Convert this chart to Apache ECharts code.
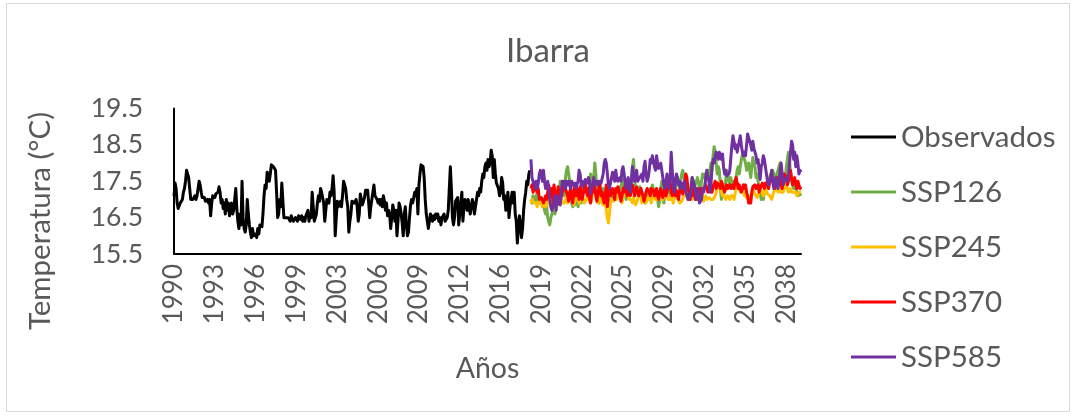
<!DOCTYPE html>
<html>
<head>
<meta charset="utf-8">
<title>Ibarra</title>
<script src="https://cdn.jsdelivr.net/npm/echarts@6/dist/echarts.min.js"></script>
<style>
  html, body { margin: 0; padding: 0; background: #fff; }
  #chart { width: 1075px; height: 416px; }
</style>
</head>
<body>
<div id="chart"></div>
<script>
// Monthly mean temperature (°C), Ibarra: observed record, Jan 1990 onwards
const observados = [
  17.1, 17.45, 17.3, 16.9, 16.75, 16.8, 16.9, 16.85, 17.0, 17.2, 17.3, 17.5,
  17.8, 17.7, 17.6, 17.3, 17.0, 16.95, 17.0, 16.95, 17.1, 17.0, 17.1, 17.3,
  17.5, 17.4, 17.2, 17.05, 17.0, 17.05, 16.95, 17.0, 17.0, 16.9, 17.0, 16.55,
  16.9, 17.1, 17.1, 17.05, 17.15, 17.1, 17.2, 17.35, 17.2, 16.9, 17.0, 16.75,
  16.9, 16.6, 17.0, 16.7, 16.9, 16.55, 16.8, 16.9, 16.6, 16.7, 16.75, 17.3,
  16.75, 16.4, 16.2, 16.6, 16.3, 17.5, 16.5, 16.2, 16.1, 16.3, 17.0, 16.6,
  16.3, 16.1, 15.95, 16.2, 16.0, 15.95, 16.05, 15.95, 16.2, 16.05, 16.3, 16.35,
  16.25, 16.6, 17.1, 17.4, 17.3, 17.75, 17.6, 17.5, 17.7, 17.95, 18.0, 17.9,
  17.95, 17.8, 17.2, 16.5, 16.6, 17.0, 16.8, 17.45, 17.4, 16.5, 16.55, 16.5,
  16.5, 16.5, 16.45, 16.4, 16.55, 16.5, 16.4, 16.45, 16.5, 16.5, 16.4, 16.55,
  16.5, 16.45, 16.55, 16.4, 16.5, 16.4, 16.55, 16.5, 16.7, 16.4, 16.6, 16.5,
  17.2, 16.8, 16.4, 16.45, 16.6, 16.9, 17.1, 16.95, 17.3, 17.2, 17.15, 16.9,
  16.4, 16.7, 17.0, 17.05, 16.9, 17.2, 17.1, 17.3, 17.65, 17.2, 16.0, 16.5,
  16.95, 16.8, 16.85, 16.95, 16.8, 17.1, 17.5, 17.45, 17.3, 17.0, 16.8, 16.1,
  16.4, 16.6, 16.95, 17.0, 16.9, 16.9, 17.0, 16.8, 16.4, 16.6, 17.15, 17.0,
  16.85, 16.9, 17.05, 17.25, 17.2, 17.25, 16.9, 16.5, 16.8, 17.0, 17.2, 17.4,
  17.1, 17.15, 17.0, 16.9, 17.0, 16.85, 17.0, 16.8, 17.1, 16.95, 16.7, 16.9,
  16.55, 16.7, 16.6, 16.2, 16.5, 16.85, 16.7, 16.4, 16.7, 16.0, 16.4, 16.9,
  16.8, 16.6, 16.35, 16.0, 16.6, 16.8, 16.3, 16.0, 16.1, 16.5, 16.85, 17.0,
  16.9, 17.05, 17.2, 17.1, 17.3, 16.6, 17.4, 17.7, 17.95, 18.0, 17.9, 17.6,
  17.0, 16.6, 16.4, 16.2, 16.4, 16.6, 16.5, 16.4, 16.55, 16.45, 16.6, 16.5,
  16.6, 16.4, 16.5, 16.3, 16.5, 16.45, 16.6, 16.4, 16.35, 16.5, 16.7, 16.65,
  17.9, 17.3, 16.5, 16.3, 16.5, 16.95, 17.0, 17.05, 16.3, 16.6, 16.9, 17.2,
  16.4, 16.8, 17.0, 16.9, 16.7, 17.0, 16.8, 16.6, 16.8, 17.0, 16.9, 16.6,
  16.8, 17.0, 17.2, 17.1, 17.3, 17.2, 17.5, 17.7, 17.6, 17.9, 18.0, 17.8,
  18.1, 17.9, 18.0, 18.35, 18.2, 17.6, 18.1, 17.7, 17.45, 17.5, 17.3, 17.1,
  17.2, 17.6, 17.45, 17.0, 17.1, 16.7, 16.9, 17.2, 16.5, 16.8, 17.0, 17.2,
  16.9, 17.2, 16.6, 16.4, 15.8, 16.2, 16.55, 16.3, 15.95, 16.2, 16.7, 17.0,
  17.2, 17.5, 17.4, 17.7, 17.8
];

// Projected monthly temperature under each scenario, continuing the record
const ssp126 = [
  17.0, 16.9, 17.1, 17.0, 16.9, 17.1, 17.2, 17.0, 16.9, 17.05, 16.95, 16.8,
  16.9, 16.7, 16.6, 16.8, 16.5, 16.4, 16.3, 16.5, 16.6, 16.7, 16.8, 16.6,
  16.8, 17.0, 16.9, 17.2, 17.5, 17.4, 17.5, 17.3, 17.1, 17.6, 17.8, 17.9,
  17.85, 17.5, 17.2, 16.9, 16.8, 17.0, 16.85, 16.9, 17.1, 16.8, 17.0, 17.2,
  16.9, 17.3, 17.2, 17.3, 17.35, 17.25, 17.3, 17.1, 17.4, 17.7, 17.5, 17.3,
  17.6, 18.0, 17.7, 17.2, 17.0, 16.9, 17.1, 17.2, 17.0, 17.3, 17.1, 16.9,
  16.8, 16.75, 16.8, 16.9, 17.0, 17.0, 17.05, 17.1, 17.0, 17.2, 17.1, 17.3,
  17.2, 17.3, 17.25, 17.45, 17.55, 17.3, 17.1, 17.0, 17.2, 17.1, 17.3, 17.4,
  17.6, 17.9, 18.1, 17.6, 17.3, 17.2, 17.3, 17.1, 17.35, 17.3, 17.2, 17.0,
  17.1, 16.9, 17.0, 17.2, 17.1, 17.0, 17.3, 17.2, 17.4, 17.3, 17.1, 17.2,
  17.25, 17.0, 16.8, 17.0, 17.3, 17.5, 17.0, 16.9, 17.2, 17.1, 17.3, 17.25,
  17.2, 17.1, 17.3, 17.4, 17.2, 17.1, 17.3, 17.4, 17.6, 17.5, 17.3, 17.5,
  17.7, 17.8, 17.75, 17.5, 17.2, 17.1, 17.0, 17.1, 17.2, 17.4, 17.6, 17.5,
  17.3, 17.4, 17.5, 17.6, 17.5, 17.3, 17.2, 17.5, 17.7, 17.6, 17.7, 17.5,
  17.7, 17.8, 17.6, 17.8, 18.0, 17.8, 18.2, 18.45, 18.3, 18.0, 17.7, 17.9,
  17.8, 17.3, 17.0, 17.1, 17.4, 17.3, 17.5, 17.8, 17.7, 17.5, 17.4, 17.6,
  17.4, 17.3, 17.5, 17.4, 17.6, 17.8, 17.9, 17.7, 17.9, 18.1, 18.25, 18.2,
  18.1, 18.0, 17.8, 17.9, 18.0, 17.8, 17.6, 17.9, 18.15, 18.1, 17.9, 17.6,
  17.7, 17.5, 17.3, 17.2, 17.0, 17.1, 17.0, 17.2, 17.3, 17.25, 17.4, 17.5,
  17.6, 17.7, 17.6, 17.8, 17.7, 17.5, 17.6, 17.7, 17.8, 17.9, 18.0, 17.8,
  17.5, 17.4, 17.3, 17.6, 17.9, 18.1, 18.3, 18.1, 17.7, 17.5, 17.4, 17.3,
  17.4, 17.3, 17.2, 17.1, 17.2, 17.15, 17.1
];

const ssp245 = [
  16.9, 17.0, 16.95, 16.9, 16.85, 16.9, 16.8, 16.9, 16.85, 17.0, 16.9, 16.8,
  16.85, 16.9, 16.8, 16.9, 17.0, 16.9, 16.85, 16.8, 16.9, 16.75, 16.8, 16.9,
  16.8, 16.9, 17.0, 16.85, 16.9, 17.0, 16.9, 16.95, 16.9, 17.0, 17.1, 16.9,
  16.85, 17.0, 17.1, 17.25, 17.0, 16.85, 16.9, 17.1, 17.15, 17.0, 16.9, 16.85,
  17.0, 17.1, 17.05, 16.9, 16.85, 17.0, 17.1, 17.2, 17.05, 16.9, 17.0, 17.3,
  17.35, 17.3, 17.1, 17.0, 16.9, 17.0, 17.1, 16.95, 16.9, 16.85, 16.8, 16.9,
  16.7, 16.5, 16.35, 16.6, 16.9, 17.0, 17.05, 16.95, 17.0, 17.1, 17.0, 17.05,
  17.25, 17.1, 17.0, 16.9, 17.05, 17.0, 17.2, 17.3, 17.25, 17.1, 17.0, 16.95,
  17.0, 16.9, 17.05, 16.95, 16.85, 16.9, 17.0, 17.2, 17.15, 17.1, 16.9, 17.0,
  17.05, 17.1, 16.9, 17.0, 16.95, 17.1, 17.0, 16.9, 17.05, 17.15, 17.1, 17.0,
  16.95, 17.0, 17.1, 17.05, 17.0, 17.1, 17.0, 16.95, 17.1, 17.05, 17.15, 17.0,
  16.95, 17.0, 17.1, 17.05, 16.9, 17.1, 17.15, 17.05, 17.1, 17.0, 16.9, 16.85,
  16.95, 17.0, 17.1, 17.05, 17.2, 17.15, 17.1, 17.2, 17.05, 17.1, 17.0, 17.1,
  17.15, 17.2, 17.1, 17.0, 17.1, 17.05, 17.0, 17.05, 17.1, 16.95, 17.0, 17.1,
  17.0, 16.95, 17.05, 17.1, 17.0, 16.95, 17.0, 17.05, 17.1, 17.2, 17.3, 17.45,
  17.4, 17.3, 17.2, 17.1, 17.05, 17.1, 17.0, 17.05, 17.1, 17.05, 17.0, 17.1,
  17.05, 17.1, 17.0, 17.15, 17.3, 17.45, 17.4, 17.3, 17.2, 17.15, 17.3, 17.2,
  17.1, 17.2, 17.05, 17.1, 17.0, 17.05, 17.1, 17.2, 17.3, 17.25, 17.15, 17.1,
  17.05, 17.1, 17.2, 17.3, 17.25, 17.2, 17.1, 17.2, 17.3, 17.25, 17.15, 17.2,
  17.1, 17.05, 17.0, 17.1, 17.2, 17.3, 17.35, 17.3, 17.2, 17.25, 17.3, 17.2,
  17.15, 17.2, 17.3, 17.6, 17.4, 17.3, 17.2, 17.25, 17.3, 17.2, 17.15, 17.2,
  17.25, 17.2, 17.1, 17.15, 17.2, 17.25, 17.2
];

const ssp370 = [
  17.3, 17.4, 17.2, 17.15, 17.3, 17.4, 17.2, 17.3, 17.0, 16.95, 17.05, 17.0,
  16.9, 17.0, 17.1, 17.0, 16.95, 17.4, 17.2, 17.1, 17.3, 16.9, 17.4, 17.2,
  17.15, 17.0, 17.35, 17.1, 16.95, 17.0, 17.2, 17.15, 17.45, 17.3, 17.2, 17.1,
  16.95, 17.2, 17.3, 17.0, 16.9, 17.2, 17.4, 17.1, 17.3, 17.2, 17.0, 17.35,
  17.2, 17.0, 17.15, 17.3, 17.45, 17.2, 17.1, 17.3, 17.0, 16.9, 17.2, 17.3,
  17.2, 17.35, 17.1, 16.95, 17.2, 17.3, 17.4, 17.1, 17.2, 17.0, 16.9, 17.1,
  17.4, 16.8, 17.2, 17.35, 17.1, 17.2, 17.3, 17.15, 17.0, 17.3, 17.2, 17.35,
  17.25, 17.3, 16.95, 17.1, 17.3, 17.2, 17.4, 17.35, 17.1, 17.3, 17.2, 17.1,
  17.3, 17.4, 17.35, 17.1, 17.2, 17.35, 17.2, 17.1, 17.15, 17.3, 17.2, 17.1,
  16.95, 17.0, 17.2, 17.3, 17.35, 17.2, 17.1, 17.3, 17.35, 17.25, 17.1, 17.2,
  17.3, 17.1, 17.0, 17.2, 17.3, 17.15, 17.05, 17.2, 17.3, 17.1, 17.2, 17.4,
  17.3, 17.5, 17.2, 17.1, 17.3, 17.2, 17.1, 17.25, 17.3, 17.0, 17.2, 17.4,
  17.3, 17.15, 17.2, 17.5, 17.7, 17.6, 17.3, 17.2, 17.0, 17.2, 17.1, 17.3,
  17.2, 17.0, 17.1, 17.3, 17.2, 17.1, 17.3, 17.35, 17.2, 17.3, 17.25, 17.4,
  17.3, 17.2, 17.35, 17.3, 17.4, 17.2, 17.35, 17.4, 17.5, 17.3, 17.45, 17.5,
  17.4, 17.3, 17.5, 17.45, 17.3, 17.2, 17.3, 17.4, 17.3, 17.35, 17.4, 17.3,
  17.35, 17.4, 17.3, 17.5, 17.6, 17.45, 17.3, 17.4, 17.35, 17.2, 17.3, 17.4,
  17.3, 17.4, 17.2, 17.1, 16.9, 16.85, 16.9, 17.2, 17.35, 17.3, 17.4, 17.3,
  17.3, 17.4, 17.2, 17.3, 17.35, 17.45, 17.4, 17.3, 17.45, 17.5, 17.4, 17.3,
  17.45, 17.6, 17.7, 17.5, 17.4, 17.3, 17.5, 17.6, 17.4, 17.5, 17.6, 17.4,
  17.3, 17.5, 17.7, 17.75, 17.6, 17.4, 17.5, 17.7, 17.8, 17.6, 17.4, 17.5,
  17.6, 17.4, 17.3, 17.5, 17.4, 17.3, 17.35
];

const ssp585 = [
  18.1, 17.6, 17.5, 17.4, 17.3, 17.5, 17.3, 17.45, 17.7, 17.8, 17.75, 17.5,
  17.8, 17.5, 17.3, 17.4, 17.5, 17.3, 17.0, 16.8, 16.7, 16.65, 16.9, 17.1,
  16.7, 17.1, 16.9, 16.95, 16.85, 17.2, 17.5, 17.4, 17.5, 17.3, 17.5, 17.4,
  17.5, 17.45, 17.3, 17.5, 17.4, 17.35, 17.45, 17.3, 17.4, 17.5, 17.8, 17.7,
  17.4, 17.5, 17.35, 17.4, 17.55, 17.5, 17.45, 17.6, 17.5, 17.15, 17.3, 17.4,
  17.6, 17.4, 17.35, 17.5, 17.4, 17.5, 17.55, 17.45, 17.5, 17.7, 18.0, 18.1,
  18.0, 17.7, 17.4, 17.3, 17.45, 17.4, 17.75, 17.6, 17.5, 17.8, 17.6, 17.5,
  17.45, 17.6, 17.5, 17.8, 17.9, 17.7, 17.5, 17.3, 17.5, 17.6, 17.3, 17.2,
  17.5, 17.9, 17.7, 17.5, 17.6, 17.8, 17.5, 17.45, 17.6, 17.55, 17.7, 17.5,
  17.9, 18.05, 17.7, 17.5, 17.6, 17.8, 18.1, 18.0, 18.2, 18.15, 17.9, 17.8,
  18.2, 18.0, 17.85, 17.9, 18.0, 17.95, 17.6, 17.4, 17.3, 17.5, 17.7, 17.45,
  17.3, 17.6, 18.3, 17.8, 17.4, 17.2, 17.5, 17.7, 17.6, 17.4, 17.5, 17.3,
  17.45, 17.4, 17.3, 17.5, 17.2, 17.1, 17.0, 17.15, 17.05, 17.3, 17.6, 17.5,
  17.4, 17.2, 17.0, 17.3, 17.1, 16.9, 16.85, 17.0, 17.3, 17.2, 17.35, 17.6,
  17.8, 17.75, 17.5, 17.2, 17.4, 17.9, 18.1, 18.0, 18.2, 18.3, 18.25, 18.1,
  18.3, 18.2, 18.1, 18.25, 17.9, 17.7, 17.8, 17.65, 17.6, 17.7, 17.8, 18.15,
  18.5, 18.75, 18.6, 18.4, 18.5, 18.3, 18.45, 18.6, 18.75, 18.5, 18.3, 18.2,
  18.3, 18.2, 18.5, 18.8, 18.7, 18.6, 18.5, 18.35, 18.6, 18.4, 18.3, 18.2,
  18.0, 18.1, 17.8, 17.55, 17.9, 18.0, 18.2, 18.1, 17.9, 17.7, 17.5, 17.4,
  17.35, 17.6, 17.8, 17.5, 17.3, 17.45, 17.6, 17.4, 17.3, 17.5, 17.8, 18.0,
  17.7, 17.4, 17.5, 17.45, 17.6, 17.5, 17.7, 18.0, 18.3, 18.6, 18.5, 18.1,
  18.3, 17.9, 18.2, 18.0, 17.7, 17.8, 17.75
];

const firstYear = 1990;
const yTicks = [15.5, 16.5, 17.5, 18.5, 19.5];

// One category per month, labelled with its year
const monthCount = observados.length + ssp585.length;
const months = [];
for (let i = 0; i < monthCount; i++) months.push(String(firstYear + Math.floor(i / 12)));

const lead = new Array(observados.length).fill(null);
const trail = new Array(ssp585.length).fill(null);

const TEXT = '#595959';
const FONT = 'Lato';

function lineSeries(name, color, data) {
  return {
    name: name,
    type: 'line',
    data: data,
    symbol: 'none',
    showSymbol: false,
    connectNulls: false,
    lineStyle: { color: color, width: 3, join: 'round' },
    itemStyle: { color: color },
    emphasis: { disabled: true },
    animation: false
  };
}

const chart = echarts.init(document.getElementById('chart'), null, { renderer: 'canvas' });
chart.setOption({
  backgroundColor: '#ffffff',
  animation: false,
  textStyle: { fontFamily: FONT },
  title: {
    text: 'Ibarra',
    left: 543,
    textAlign: 'center',
    top: 30,
    textStyle: { color: TEXT, fontFamily: FONT, fontSize: 33, fontWeight: 'normal' }
  },
  legend: {
    orient: 'vertical',
    left: 846,
    top: 117,
    itemWidth: 45,
    itemHeight: 14,
    itemGap: 25,
    icon: 'path://M0,5.8 L45,5.8 L45,8.9 L0,8.9 Z',
    textStyle: { color: TEXT, fontFamily: FONT, fontSize: 29.5 },
    data: ['Observados', 'SSP126', 'SSP245', 'SSP370', 'SSP585']
  },
  grid: { left: 174, right: 274, top: 108.5, bottom: 162, containLabel: false },
  xAxis: {
    type: 'category',
    data: months,
    boundaryGap: false,
    name: 'Años',
    nameLocation: 'middle',
    nameGap: 100,
    nameTextStyle: { color: TEXT, fontFamily: FONT, fontSize: 28.5 },
    axisLine: { show: true, lineStyle: { color: '#000', width: 2 } },
    axisTick: { show: false },
    splitLine: { show: false },
    axisLabel: {
      interval: 38,
      rotate: 90,
      margin: 10,
      color: TEXT,
      fontFamily: FONT,
      fontSize: 26
    }
  },
  yAxis: {
    type: 'value',
    min: yTicks[0],
    max: yTicks[yTicks.length - 1],
    interval: 0.5,
    axisLine: { show: true, lineStyle: { color: '#000', width: 2 } },
    axisTick: { show: false },
    splitLine: { show: false },
    axisLabel: {
      margin: 31,
      color: TEXT,
      fontFamily: FONT,
      fontSize: 26.5,
      formatter: function (v) {
        return yTicks.some(t => Math.abs(t - v) < 1e-6) ? v.toFixed(1) : '';
      }
    }
  },
  graphic: [
    {
      type: 'rect',
      silent: true,
      shape: { x: 6.5, y: 3.5, width: 1063, height: 408 },
      style: { fill: null, stroke: '#D9D9D9', lineWidth: 1 }
    },
    {
      type: 'text',
      silent: true,
      x: 40,
      y: 221,
      rotation: Math.PI / 2,
      style: {
        text: 'Temperatura (°C)',
        fill: TEXT,
        font: '29.5px ' + FONT,
        align: 'center',
        verticalAlign: 'middle'
      }
    }
  ],
  series: [
    lineSeries('Observados', '#000000', observados.concat(trail)),
    lineSeries('SSP126', '#70AD47', lead.concat(ssp126)),
    lineSeries('SSP245', '#FFC000', lead.concat(ssp245)),
    lineSeries('SSP370', '#FF0000', lead.concat(ssp370)),
    lineSeries('SSP585', '#7030A0', lead.concat(ssp585))
  ]
});
</script>
</body>
</html>
